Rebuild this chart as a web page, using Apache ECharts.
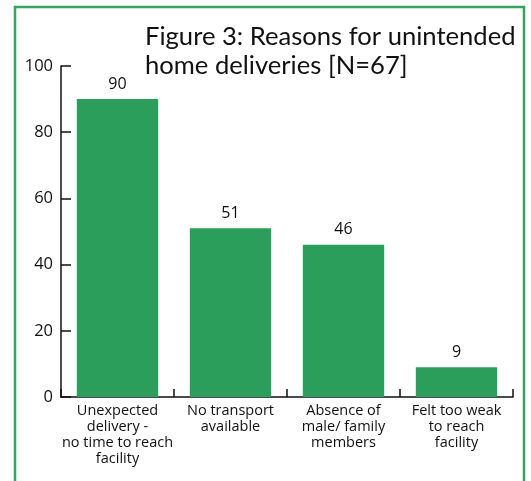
<!DOCTYPE html>
<html>
<head>
<meta charset="utf-8">
<script src="https://cdn.jsdelivr.net/npm/echarts@6/dist/echarts.min.js"></script>
<style>
  html, body { margin: 0; padding: 0; background: #fff; }
  #chart { width: 531px; height: 481px; }
</style>
</head>
<body>
<div id="chart"></div>
<script>
// Reasons for unintended home deliveries
const categories = [
  'Unexpected\ndelivery -\nno time to reach\nfacility',
  'No transport\navailable',
  'Absence of\nmale/ family\nmembers',
  'Felt too weak\nto reach\nfacility'
];
const values = [90, 51, 46, 9];
const yTicks = [0, 20, 40, 60, 80, 100];

const chart = echarts.init(document.getElementById('chart'), null, { renderer: 'canvas' });

const labelFont = '"Open Sans", "Noto Sans", sans-serif';

chart.setOption({
  animation: false,
  backgroundColor: '#ffffff',
  title: {
    text: 'Figure 3: Reasons for unintended\nhome deliveries [N=67]',
    left: 140,
    top: 17,
    textStyle: {
      fontFamily: 'Lato, "Open Sans", sans-serif',
      fontWeight: 'normal',
      fontSize: 25.6,
      lineHeight: 29,
      color: '#111'
    }
  },
  graphic: [{
    type: 'rect',
    shape: { x: 15, y: 7, width: 509, height: 500 },
    style: { fill: 'none', stroke: '#33a55c', lineWidth: 2.5 },
    silent: true,
    z: 0
  }],
  grid: { left: 61, right: 18, top: 66, bottom: 84 },
  xAxis: {
    type: 'category',
    data: categories,
    axisLine: { lineStyle: { color: '#111', width: 1.5 } },
    axisTick: { show: true, inside: true, length: 8, alignWithLabel: false, lineStyle: { color: '#111', width: 1.5 } },
    axisLabel: {
      interval: 0,
      fontFamily: labelFont,
      fontSize: 14.5,
      lineHeight: 16,
      color: '#111',
      margin: 6
    }
  },
  yAxis: {
    type: 'value',
    min: yTicks[0],
    max: yTicks[yTicks.length - 1],
    interval: 20,
    splitLine: { show: false },
    axisLine: { show: true, lineStyle: { color: '#111', width: 1.5 } },
    axisTick: { show: true, inside: true, length: 10, lineStyle: { color: '#111', width: 1.5 } },
    axisLabel: {
      fontFamily: labelFont,
      fontSize: 16.5,
      color: '#111',
      margin: 8
    }
  },
  series: [{
    type: 'bar',
    data: values,
    barCategoryGap: '28%',
    itemStyle: { color: '#2a9e5a' },
    label: {
      show: true,
      position: 'top',
      distance: 7,
      fontFamily: labelFont,
      fontSize: 16,
      color: '#111'
    }
  }]
});
</script>
</body>
</html>
